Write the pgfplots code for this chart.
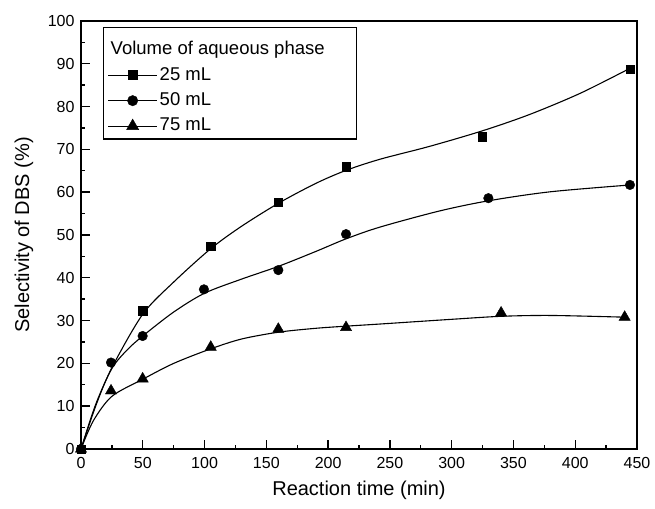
\documentclass[border=0pt]{standalone}
\usepackage{fontspec}
\setmainfont{Liberation Sans}
\usepackage{pgfplots}
\pgfplotsset{compat=1.18}
\begin{document}
\begin{tikzpicture}[x=1pt,y=1pt]
\begin{axis}[
 at={(0,0)}, anchor=south west,
 scale only axis, width=556pt, height=428pt,
 xmin=0, xmax=450, ymin=0, ymax=100,
 clip=false,
 xtick={0,50,...,450}, ytick={0,10,...,100},
 minor x tick num=1, minor y tick num=1,
 tick pos=left,
 tick align=inside,
 major tick length=9pt, minor tick length=4.5pt,
 axis line style={line width=1.6pt},
 every tick/.style={black, line width=1.4pt},
 /pgf/number format/assume math mode=true,
 ticklabel style={font=\fontsize{16}{18}\selectfont},
 yticklabel style={xshift=-3pt},
 xticklabel style={yshift=-5pt},
 xlabel={Reaction time (min)}, ylabel={Selectivity of DBS (\%)},
 every axis x label/.style={at={(axis description cs:0.5,-0.0958)}, anchor=center, font=\fontsize{20}{22}\selectfont},
 every axis y label/.style={at={(axis description cs:-0.1025,0.5)}, rotate=90, anchor=center, font=\fontsize{20}{22}\selectfont},
 legend cell align=left,
 legend image code/.code={\draw[mark repeat=2,mark phase=2] plot coordinates {(0pt,0pt) (24.5pt,0pt) (49pt,0pt)};},
 legend style={at={(axis description cs:0.0396,0.986)}, anchor=north west, draw=black, line width=1.2pt,
   font=\fontsize{18.5}{20}\selectfont, inner xsep=4pt, inner ysep=3pt, row sep=5.6pt,
   nodes={inner sep=2pt, text depth=3pt, anchor=west}},
]
% fitted curves
\addplot[black, line width=1.1pt, smooth, forget plot] coordinates {
 (0,0) (12.5,10.5) (25,19) (50,31.5) (75,39.0) (105,46.8) (130,52.05) (160,57.45) (190,62.05) (214.5,65.1)
 (242,67.7) (282,70.7) (325,74.35) (363,78.15) (404,83.1) (444,88.9)};
\addplot[black, line width=1.1pt, smooth, forget plot] coordinates {
 (0,0) (12,10.5) (25,18.8) (37.5,23.2) (50,26.4) (75,32.0) (100,36.4) (130,39.7) (160,42.7) (190,46.15) (214.5,49.1)
 (242,51.85) (290,55.6) (330,58.0) (380,60.1) (445,61.7)};
\addplot[black, line width=1.1pt, smooth, forget plot] coordinates {
 (0,0) (10,6.6) (25,12.3) (50,16.3) (75,20.0) (105,23.4) (130,25.7) (160,27.3) (190,28.2) (214.5,28.7)
 (242,29.2) (300,30.3) (340,31) (380,31.2) (440,30.8)};
% data points
\addplot[only marks, mark=square*, mark size=4.2pt, mark options={line width=0.4pt}, forget plot] coordinates {
 (0,0) (49.9,32.3) (105,47.4) (159.7,57.7) (214.5,66.0) (324.8,73.0) (444.3,88.7)};
\addplot[only marks, mark=*, mark size=4.8pt, mark options={line width=0.4pt}, forget plot] coordinates {
 (0,0) (24.3,20.2) (49.9,26.4) (99.5,37.3) (159.7,41.8) (214.5,50.2) (329.7,58.6) (444.3,61.7)};
\addplot[only marks, mark=triangle*, mark size=6.5pt, mark options={line width=0.4pt}, forget plot] coordinates {
 (0,0) (24.3,13.6) (49.9,16.4) (105,23.8) (159.7,28.0) (214.5,28.4) (340,31.8) (440,30.8)};
% legend
\addlegendimage{empty legend}
\addlegendentry{\hspace*{-49pt}\rule{0pt}{22pt}Volume of aqueous phase\hspace*{26pt}}
\addlegendimage{black, line width=1.1pt, mark=square*, mark size=4.5pt, mark options={line width=0.4pt}}
\addlegendentry{25 mL}
\addlegendimage{black, line width=1.1pt, mark=*, mark size=5.2pt, mark options={line width=0.4pt}}
\addlegendentry{50 mL}
\addlegendimage{black, line width=1.1pt, mark=triangle*, mark size=7pt, mark options={line width=0.4pt}}
\addlegendentry{75 mL}
\end{axis}
\pgfresetboundingbox
\useasboundingbox (-81,-59) rectangle (574,449);
\end{tikzpicture}
\end{document}
